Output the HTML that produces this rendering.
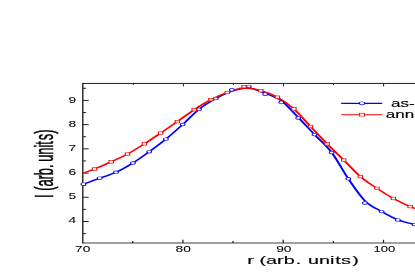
<!DOCTYPE html><html><head><meta charset="utf-8"><style>html,body{margin:0;padding:0;background:#fff}svg{display:block;filter:blur(0.35px)}text{font-family:"Liberation Sans",sans-serif;fill:#000;stroke:#000;stroke-width:0.15px}</style></head><body>
<svg width="415" height="277" viewBox="0 0 415 277">
<rect width="415" height="277" fill="#fff"/>
<defs><clipPath id="c"><rect x="82.8" y="83.5" width="340" height="159.4"/></clipPath></defs>
<line x1="82.8" y1="242.90" x2="415" y2="242.90" stroke="#808080" stroke-width="1.5"/>
<line x1="82.8" y1="83.45" x2="415" y2="83.45" stroke="#151515" stroke-width="0.95"/>
<line x1="82.8" y1="82.95" x2="82.8" y2="243.60" stroke="#111" stroke-width="1.3"/>
<line x1="82.8" y1="233.61" x2="86.0" y2="233.61" stroke="#222" stroke-width="1"/>
<line x1="82.8" y1="221.50" x2="88.7" y2="221.50" stroke="#222" stroke-width="1"/>
<line x1="82.8" y1="209.39" x2="86.0" y2="209.39" stroke="#222" stroke-width="1"/>
<line x1="82.8" y1="197.28" x2="88.7" y2="197.28" stroke="#222" stroke-width="1"/>
<line x1="82.8" y1="185.17" x2="86.0" y2="185.17" stroke="#222" stroke-width="1"/>
<line x1="82.8" y1="173.06" x2="88.7" y2="173.06" stroke="#222" stroke-width="1"/>
<line x1="82.8" y1="160.95" x2="86.0" y2="160.95" stroke="#222" stroke-width="1"/>
<line x1="82.8" y1="148.84" x2="88.7" y2="148.84" stroke="#222" stroke-width="1"/>
<line x1="82.8" y1="136.73" x2="86.0" y2="136.73" stroke="#222" stroke-width="1"/>
<line x1="82.8" y1="124.62" x2="88.7" y2="124.62" stroke="#222" stroke-width="1"/>
<line x1="82.8" y1="112.51" x2="86.0" y2="112.51" stroke="#222" stroke-width="1"/>
<line x1="82.8" y1="100.40" x2="88.7" y2="100.40" stroke="#222" stroke-width="1"/>
<line x1="82.8" y1="88.29" x2="86.0" y2="88.29" stroke="#222" stroke-width="1"/>
<line x1="132.75" y1="242.90" x2="132.75" y2="241.00" stroke="#222" stroke-width="1.3"/>
<line x1="133.35" y1="83.45" x2="133.35" y2="85.05" stroke="#222" stroke-width="1"/>
<line x1="182.90" y1="242.90" x2="182.90" y2="239.80" stroke="#222" stroke-width="1.3"/>
<line x1="183.40" y1="83.45" x2="183.40" y2="86.45" stroke="#222" stroke-width="1"/>
<line x1="233.05" y1="242.90" x2="233.05" y2="241.00" stroke="#222" stroke-width="1.3"/>
<line x1="233.45" y1="83.45" x2="233.45" y2="85.05" stroke="#222" stroke-width="1"/>
<line x1="283.20" y1="242.90" x2="283.20" y2="239.80" stroke="#222" stroke-width="1.3"/>
<line x1="283.50" y1="83.45" x2="283.50" y2="86.45" stroke="#222" stroke-width="1"/>
<line x1="333.35" y1="242.90" x2="333.35" y2="241.00" stroke="#222" stroke-width="1.3"/>
<line x1="333.55" y1="83.45" x2="333.55" y2="85.05" stroke="#222" stroke-width="1"/>
<line x1="383.50" y1="242.90" x2="383.50" y2="239.80" stroke="#222" stroke-width="1.3"/>
<line x1="383.60" y1="83.45" x2="383.60" y2="86.45" stroke="#222" stroke-width="1"/>
<g clip-path="url(#c)"><g transform="scale(1.7,1)">
<path d="M49.06,184.20 C50.66,183.20 55.45,180.18 58.65,178.20 C61.84,176.22 64.98,174.83 68.24,172.30 C71.49,169.77 74.92,166.43 78.18,163.00 C81.43,159.57 84.53,155.68 87.76,151.70 C91.00,147.72 94.30,143.63 97.59,139.10 C100.87,134.57 104.23,129.47 107.47,124.50 C110.72,119.53 113.81,113.62 117.06,109.30 C120.30,104.98 123.72,101.62 126.94,98.60 C130.17,95.58 133.17,92.93 136.41,91.20 C139.66,89.47 143.15,87.83 146.41,88.20 C149.68,88.57 152.82,91.32 156.00,93.40 C159.18,95.48 162.24,96.72 165.47,100.70 C168.71,104.68 172.16,111.65 175.41,117.30 C178.67,122.95 181.72,128.73 185.00,134.60 C188.28,140.47 191.80,145.13 195.12,152.50 C198.43,159.87 201.63,170.75 204.88,178.80 C208.14,186.85 211.38,195.33 214.65,200.80 C217.91,206.27 221.24,208.42 224.47,211.60 C227.71,214.78 230.83,217.75 234.06,219.90 C237.28,222.05 240.58,223.15 243.82,224.50 C247.07,225.85 251.91,227.42 253.53,228.00" fill="none" stroke="#0000ff" stroke-width="1.35"/>
<path d="M45.82,175.00 C47.45,174.00 52.32,171.18 55.59,169.00 C58.85,166.82 62.18,164.38 65.41,161.90 C68.65,159.42 71.75,157.10 75.00,154.10 C78.25,151.10 81.70,147.40 84.94,143.90 C88.19,140.40 91.25,136.82 94.47,133.10 C97.70,129.38 101.00,125.50 104.29,121.60 C107.59,117.70 110.94,113.37 114.24,109.70 C117.53,106.03 120.82,102.47 124.06,99.60 C127.29,96.73 130.40,94.43 133.65,92.50 C136.89,90.57 140.24,88.30 143.53,88.00 C146.82,87.70 150.14,89.17 153.41,90.70 C156.69,92.23 159.93,94.17 163.18,97.20 C166.42,100.23 169.64,104.02 172.88,108.90 C176.13,113.78 179.39,120.67 182.65,126.50 C185.90,132.33 189.15,138.30 192.41,143.90 C195.68,149.50 198.97,154.65 202.24,160.10 C205.50,165.55 208.75,171.88 212.00,176.60 C215.25,181.32 218.47,184.75 221.71,188.40 C224.94,192.05 228.16,195.47 231.41,198.50 C234.67,201.53 238.04,204.35 241.24,206.60 C244.43,208.85 249.03,211.10 250.59,212.00" fill="none" stroke="#ff0000" stroke-width="1.35"/>
</g></g>
<g transform="scale(1.7,1)">
<circle cx="49.06" cy="184.20" r="1.4" fill="#fff" stroke="#0000ff" stroke-width="0.62"/>
<circle cx="58.65" cy="178.20" r="1.4" fill="#fff" stroke="#0000ff" stroke-width="0.62"/>
<circle cx="68.24" cy="172.30" r="1.4" fill="#fff" stroke="#0000ff" stroke-width="0.62"/>
<circle cx="78.18" cy="163.00" r="1.4" fill="#fff" stroke="#0000ff" stroke-width="0.62"/>
<circle cx="87.76" cy="151.70" r="1.4" fill="#fff" stroke="#0000ff" stroke-width="0.62"/>
<circle cx="97.59" cy="139.10" r="1.4" fill="#fff" stroke="#0000ff" stroke-width="0.62"/>
<circle cx="107.47" cy="124.50" r="1.4" fill="#fff" stroke="#0000ff" stroke-width="0.62"/>
<circle cx="117.06" cy="109.30" r="1.4" fill="#fff" stroke="#0000ff" stroke-width="0.62"/>
<circle cx="126.94" cy="98.60" r="1.4" fill="#fff" stroke="#0000ff" stroke-width="0.62"/>
<circle cx="136.41" cy="89.80" r="1.4" fill="#fff" stroke="#0000ff" stroke-width="0.62"/>
<circle cx="146.41" cy="86.40" r="1.4" fill="#fff" stroke="#0000ff" stroke-width="0.62"/>
<circle cx="156.00" cy="94.20" r="1.4" fill="#fff" stroke="#0000ff" stroke-width="0.62"/>
<circle cx="165.47" cy="102.30" r="1.4" fill="#fff" stroke="#0000ff" stroke-width="0.62"/>
<circle cx="175.41" cy="118.00" r="1.4" fill="#fff" stroke="#0000ff" stroke-width="0.62"/>
<circle cx="185.00" cy="134.60" r="1.4" fill="#fff" stroke="#0000ff" stroke-width="0.62"/>
<circle cx="195.12" cy="152.50" r="1.4" fill="#fff" stroke="#0000ff" stroke-width="0.62"/>
<circle cx="204.88" cy="178.80" r="1.4" fill="#fff" stroke="#0000ff" stroke-width="0.62"/>
<circle cx="214.65" cy="203.00" r="1.4" fill="#fff" stroke="#0000ff" stroke-width="0.62"/>
<circle cx="224.47" cy="211.60" r="1.4" fill="#fff" stroke="#0000ff" stroke-width="0.62"/>
<circle cx="234.06" cy="219.90" r="1.4" fill="#fff" stroke="#0000ff" stroke-width="0.62"/>
<circle cx="243.82" cy="224.50" r="1.4" fill="#fff" stroke="#0000ff" stroke-width="0.62"/>
<rect x="54.30" y="167.71" width="2.576" height="2.576" fill="#fff" stroke="#ff0000" stroke-width="0.62"/>
<rect x="64.12" y="160.61" width="2.576" height="2.576" fill="#fff" stroke="#ff0000" stroke-width="0.62"/>
<rect x="73.71" y="152.81" width="2.576" height="2.576" fill="#fff" stroke="#ff0000" stroke-width="0.62"/>
<rect x="83.65" y="142.61" width="2.576" height="2.576" fill="#fff" stroke="#ff0000" stroke-width="0.62"/>
<rect x="93.18" y="131.81" width="2.576" height="2.576" fill="#fff" stroke="#ff0000" stroke-width="0.62"/>
<rect x="103.01" y="120.31" width="2.576" height="2.576" fill="#fff" stroke="#ff0000" stroke-width="0.62"/>
<rect x="112.95" y="108.41" width="2.576" height="2.576" fill="#fff" stroke="#ff0000" stroke-width="0.62"/>
<rect x="122.77" y="98.31" width="2.576" height="2.576" fill="#fff" stroke="#ff0000" stroke-width="0.62"/>
<rect x="132.36" y="91.21" width="2.576" height="2.576" fill="#fff" stroke="#ff0000" stroke-width="0.62"/>
<rect x="142.24" y="85.31" width="2.576" height="2.576" fill="#fff" stroke="#ff0000" stroke-width="0.62"/>
<rect x="152.12" y="89.41" width="2.576" height="2.576" fill="#fff" stroke="#ff0000" stroke-width="0.62"/>
<rect x="161.89" y="95.91" width="2.576" height="2.576" fill="#fff" stroke="#ff0000" stroke-width="0.62"/>
<rect x="171.59" y="107.61" width="2.576" height="2.576" fill="#fff" stroke="#ff0000" stroke-width="0.62"/>
<rect x="181.36" y="125.21" width="2.576" height="2.576" fill="#fff" stroke="#ff0000" stroke-width="0.62"/>
<rect x="191.12" y="142.61" width="2.576" height="2.576" fill="#fff" stroke="#ff0000" stroke-width="0.62"/>
<rect x="200.95" y="158.81" width="2.576" height="2.576" fill="#fff" stroke="#ff0000" stroke-width="0.62"/>
<rect x="210.71" y="175.31" width="2.576" height="2.576" fill="#fff" stroke="#ff0000" stroke-width="0.62"/>
<rect x="220.42" y="187.11" width="2.576" height="2.576" fill="#fff" stroke="#ff0000" stroke-width="0.62"/>
<rect x="230.12" y="197.21" width="2.576" height="2.576" fill="#fff" stroke="#ff0000" stroke-width="0.62"/>
<rect x="239.95" y="205.31" width="2.576" height="2.576" fill="#fff" stroke="#ff0000" stroke-width="0.62"/>
<line x1="200.71" y1="103.3" x2="224.82" y2="103.3" stroke="#0000ff" stroke-width="1.15"/>
<line x1="200.71" y1="114.7" x2="224.82" y2="114.7" stroke="#ff0000" stroke-width="1.15"/>
<circle cx="212.94" cy="103.30" r="1.55" fill="#fff" stroke="#0000ff" stroke-width="0.62"/>
<rect x="211.52" y="113.27" width="2.852" height="2.852" fill="#fff" stroke="#ff0000" stroke-width="0.62"/>
</g>
<text transform="translate(391.0,106.6) scale(1.55,1)" font-size="11">as-</text>
<text transform="translate(385.7,118.1) scale(1.55,1)" font-size="11">ann</text>
<text transform="translate(76.2,223.30) scale(1.64,1)" font-size="8.4" text-anchor="end" style="stroke-width:0.05px">4</text>
<text transform="translate(76.2,199.22) scale(1.64,1)" font-size="8.4" text-anchor="end" style="stroke-width:0.05px">5</text>
<text transform="translate(76.2,175.14) scale(1.64,1)" font-size="8.4" text-anchor="end" style="stroke-width:0.05px">6</text>
<text transform="translate(76.2,151.06) scale(1.64,1)" font-size="8.4" text-anchor="end" style="stroke-width:0.05px">7</text>
<text transform="translate(76.2,126.98) scale(1.64,1)" font-size="8.4" text-anchor="end" style="stroke-width:0.05px">8</text>
<text transform="translate(76.2,102.90) scale(1.64,1)" font-size="8.4" text-anchor="end" style="stroke-width:0.05px">9</text>
<text transform="translate(82.70,251.8) scale(1.53,1)" font-size="9" text-anchor="middle" style="stroke-width:0.05px">70</text>
<text transform="translate(183.25,251.8) scale(1.53,1)" font-size="9" text-anchor="middle" style="stroke-width:0.05px">80</text>
<text transform="translate(283.80,251.8) scale(1.53,1)" font-size="9" text-anchor="middle" style="stroke-width:0.05px">90</text>
<text transform="translate(384.35,251.8) scale(1.45,1)" font-size="9" text-anchor="middle" style="stroke-width:0.05px">100</text>
<text transform="translate(247.3,264.2) scale(1.8,1)" font-size="11" dx="0 0 0 0 0 0.17 0.44 0 0.72 0.06 0 0.44 0.17 0.72">r (arb. units)</text>
<text transform="translate(53.4,198) rotate(-90) scale(0.514,1)" font-size="25" style="stroke-width:0.5px" dx="0 0 0 0 0 0 0 0 -1.9 0 0 0 1.9 0">I (arb. units)</text>
</svg></body></html>
